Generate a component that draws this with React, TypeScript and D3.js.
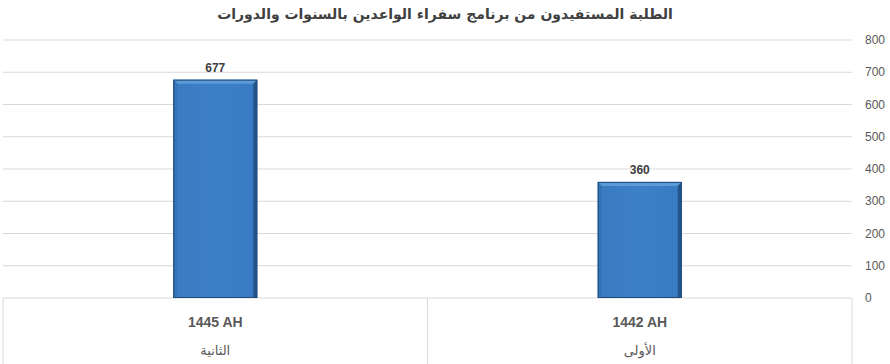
import React from "react";
import * as d3 from "d3";

const title = "الطلبة المستفيدون من برنامج سفراء الواعدين بالسنوات والدورات";
const years = ["1445 AH", "1442 AH"];
const rounds = ["الثانية", "الأولى"];
const students = [677, 360];
const yTicks = [0, 100, 200, 300, 400, 500, 600, 700, 800];

const W = 890;
const H = 364;
const plotLeft = 3;
const plotRight = 852;
const plotTop = 40;
const plotBottom = 298;

export default function App() {
  const x = d3.scaleBand<string>().domain(years).range([plotLeft, plotRight]).paddingInner(0).paddingOuter(0);
  const y = d3.scaleLinear().domain([0, 800]).range([plotBottom, plotTop]);
  const barW = 84;
  const bev = 4;

  return (
    <svg width={W} height={H} style={{ position: "absolute", left: 0, top: 0, background: "#fff" }}>
      <defs>
        <linearGradient id="barFace" x1="0" y1="0" x2="1" y2="0">
          <stop offset="0" stopColor="#3a7bc0" />
          <stop offset="0.5" stopColor="#3c80c8" />
          <stop offset="1" stopColor="#387bc2" />
        </linearGradient>
      </defs>
      <text x={W / 2} y={19} textAnchor="middle" fontFamily="DejaVu Sans" fontWeight="bold" fontSize={14} fill="#404040">
        {title}
      </text>
      {yTicks.map((t) => (
        <g key={t}>
          {t > 0 && (
            <line x1={plotLeft} x2={plotRight} y1={y(t)} y2={y(t)} stroke="#d9d9d9" strokeWidth={1} />
          )}
          <text x={865} y={y(t)} dy="0.35em" fontFamily="Liberation Sans, Arial" fontSize={12} fill="#595959">
            {t}
          </text>
        </g>
      ))}
      {/* category table */}
      <line x1={plotLeft} x2={plotRight} y1={plotBottom} y2={plotBottom} stroke="#d9d9d9" />
      <line x1={plotLeft} x2={plotLeft} y1={plotBottom} y2={H} stroke="#d9d9d9" />
      <line x1={plotRight} x2={plotRight} y1={plotBottom} y2={H} stroke="#d9d9d9" />
      {years.slice(1).map((c) => (
        <line key={c} x1={x(c)!} x2={x(c)!} y1={plotBottom} y2={H} stroke="#d9d9d9" />
      ))}
      {years.map((c, i) => {
        const cx = x(c)! + x.bandwidth() / 2;
        const x0 = cx - barW / 2;
        const y0 = y(students[i]);
        const h = plotBottom - y0;
        return (
          <g key={c}>
            <rect x={x0} y={y0} width={barW} height={h} fill="url(#barFace)" />
            {/* bevel: top highlight, left light, right and bottom shadow */}
            <polygon points={`${x0},${y0} ${x0 + barW},${y0} ${x0 + barW - bev},${y0 + bev} ${x0 + bev},${y0 + bev}`} fill="#5c9ad8" />
            <polygon points={`${x0},${y0} ${x0 + bev},${y0 + bev} ${x0 + bev},${plotBottom} ${x0},${plotBottom}`} fill="#3573b6" />
            <polygon points={`${x0 + barW},${y0} ${x0 + barW - bev},${y0 + bev} ${x0 + barW - bev},${plotBottom} ${x0 + barW},${plotBottom}`} fill="#24558a" />
            <rect x={x0 + 0.5} y={y0 + 0.5} width={barW - 1} height={h - 1} fill="none" stroke="#1f4a78" strokeWidth={1} />
            <text x={cx} y={y0 - 12} dy="0.35em" textAnchor="middle" fontFamily="Liberation Sans, Arial" fontWeight="bold" fontSize={12} fill="#404040">
              {students[i]}
            </text>
            <text x={cx} y={322} dy="0.35em" textAnchor="middle" fontFamily="Liberation Sans Narrow, Liberation Sans, Arial" fontWeight="bold" fontSize={14} fill="#595959">
              {c}
            </text>
            <text x={cx} y={350} dy="0.35em" textAnchor="middle" fontFamily="DejaVu Sans" fontSize={13} fill="#595959">
              {rounds[i]}
            </text>
          </g>
        );
      })}
    </svg>
  );
}
